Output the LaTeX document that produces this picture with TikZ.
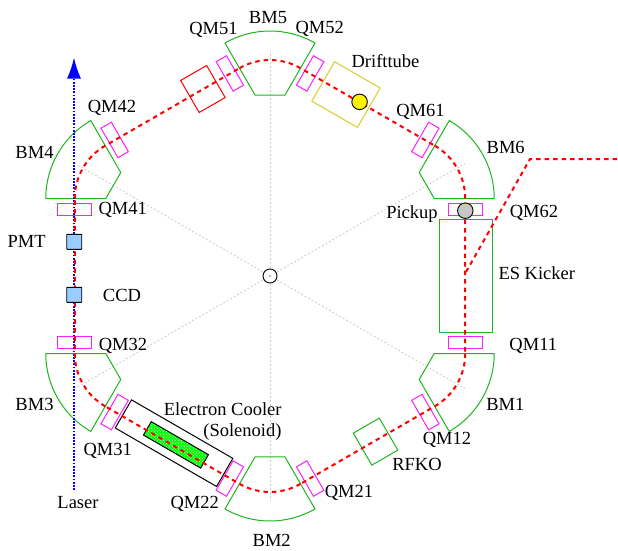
\documentclass[tikz,border=0pt]{standalone}
\usepackage{fontspec}
\setmainfont{Liberation Serif}
\usetikzlibrary{arrows.meta,patterns}

\definecolor{bmgreen}{RGB}{30,180,30}
\definecolor{qmpink}{RGB}{255,30,255}
\definecolor{tubeyellow}{RGB}{215,205,40}
\definecolor{detblue}{RGB}{153,204,255}

\tikzstyle{lab} = [inner sep=0pt, text height=12pt, text depth=0pt, font=\fontsize{18.5}{21}\selectfont]
\tikzstyle{beam} = [red, line width=2pt, dash pattern=on 4.5pt off 4pt]
\tikzstyle{laser} = [blue, line width=1.8pt, dash pattern=on 1.8pt off 1.4pt]
\tikzstyle{spoke} = [black!20, line width=0.8pt, dash pattern=on 2pt off 2pt]
\tikzstyle{bm} = [bmgreen, line width=1pt]
\tikzstyle{qm} = [qmpink, line width=1pt]
\tikzstyle{det} = [draw=black, fill=detblue, line width=0.9pt, minimum size=15pt, inner sep=0pt, rounded corners=0.5pt]

\begin{document}
\begin{tikzpicture}[x=1pt, y=1pt]
\useasboundingbox (-270,-274) rectangle (348,276);

% spokes
\foreach \a in {30,90,...,330}
    \draw[spoke] (0,0) -- (\a:225);

% bending magnets
\foreach \a in {30,90,...,330} {
    \begin{scope}[rotate=\a, shift={(155,0)}]
        \draw[bm] (30:30) -- (30:90) arc (30:-30:90) -- (-30:30) -- cycle;
    \end{scope}
}

% quadrupoles
\foreach \a in {0,60,...,300} {
    \begin{scope}[rotate=\a]
        \draw[qm] (178.5,60.5) rectangle (212.5,72.5);
        \draw[qm] (178.5,-60.5) rectangle (212.5,-72.5);
    \end{scope}
}

% straight section parts
\draw[bm] (169.5,56.5) rectangle (222.5,-56.5);
\begin{scope}[rotate=60]
    \draw[tubeyellow, line width=1pt] (172.4,-1.4) rectangle (217.9,51.2);
\end{scope}
\begin{scope}[rotate=120]
    \draw[red, line width=1pt] (177,-50.4) rectangle (214,-20.4);
\end{scope}
\begin{scope}[rotate=-60]
    \draw[bmgreen, line width=1pt] (177.7,-6.4) rectangle (214.7,23.6);
\end{scope}
\begin{scope}[rotate=-120]
    \draw[black, line width=1pt] (176.5,-58) rectangle (209,59);
    \fill[green] (185.5,-30) rectangle (201,36);
    \fill[pattern=crosshatch dots, pattern color=white] (185.5,-30) rectangle (201,36);
    \draw[black, line width=1pt] (185.5,-30) rectangle (201,36);
\end{scope}

% laser
\draw[laser, -{Latex[length=21pt, width=14pt]}] (-196,-214) -- (-196,218.5);

% beam
\foreach \a in {30,90,...,330} {
    \begin{scope}[rotate=\a]
        \draw[beam] (155,0) ++(30:61) arc (30:-30:61) -- ++(-120:155);
    \end{scope}
}
\draw[beam] (196,4) -- (260,117) -- (348,117);

% center and detectors
\node[draw=black, fill=white, circle, minimum size=14pt, inner sep=0pt, line width=0.9pt] (center) at (0,0) {};
\fill[black!25] (center) circle (1.5);
\node[det] (pmt) at (-195.7,34.2) {};
\node[det] (ccd) at (-195.7,-18.8) {};
\node[draw=black, fill=black!22, circle, minimum size=15.5pt, inner sep=0pt, line width=0.9pt] (pickup) at (195.3,65.3) {};
\begin{scope}[rotate=60]
    \node[draw=black, fill=yellow, circle, minimum size=15.5pt, inner sep=0pt, line width=0.9pt] (tube) at (195.6,9.5) {};
\end{scope}

% labels
\node[lab] (qm51) at (-56.5,248) {QM51};
\node[lab] (bm5) at (-2,259) {BM5};
\node[lab] (qm52) at (49.7,249) {QM52};
\node[lab] (drift) at (115.5,215) {Drifttube};
\node[lab] (qm42) at (-158,169.3) {QM42};
\node[lab] (bm4) at (-235.5,123.3) {BM4};
\node[lab] (qm41) at (-147.3,68) {QM41};
\node[lab] (pmtl) at (-243.3,34.3) {PMT};
\node[lab] (ccdl) at (-148,-19) {CCD};
\node[lab] (qm32) at (-147,-68) {QM32};
\node[lab] (bm3) at (-235.5,-128) {BM3};
\node[lab] (qm31) at (-162.2,-173) {QM31};
\node[lab, anchor=east] (cooler) at (11.7,-133) {Electron Cooler};
\node[lab, anchor=east] (sol) at (11.7,-154) {(Solenoid)};
\node[lab] (laserl) at (-192,-226.7) {Laser};
\node[lab] (qm22) at (-75.3,-226.7) {QM22};
\node[lab] (bm2) at (1.7,-264) {BM2};
\node[lab] (qm21) at (79,-215) {QM21};
\node[lab] (rfko) at (147,-188) {RFKO};
\node[lab] (qm12) at (177,-162) {QM12};
\node[lab] (bm1) at (235.3,-128) {BM1};
\node[lab] (qm11) at (263.3,-68) {QM11};
\node[lab] (kicker) at (266.8,3) {ES Kicker};
\node[lab] (qm62) at (264,64.3) {QM62};
\node[lab] (pick) at (142,64) {Pickup};
\node[lab] (bm6) at (235.7,128.3) {BM6};
\node[lab] (qm61) at (150.5,166) {QM61};
\end{tikzpicture}
\end{document}
